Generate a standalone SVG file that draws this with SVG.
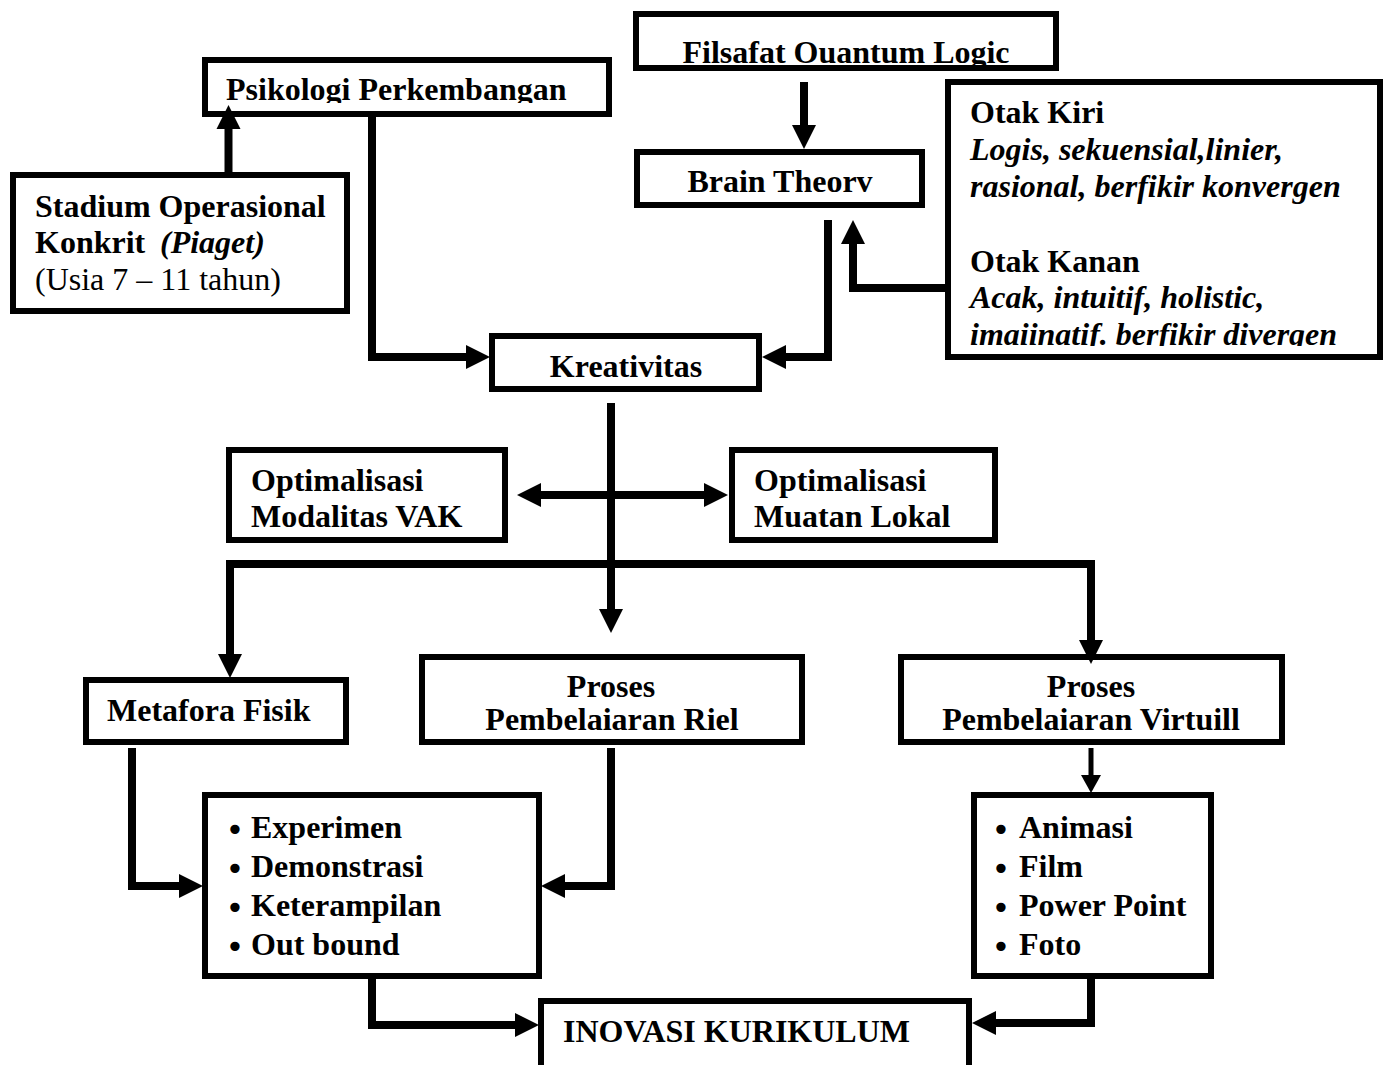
<svg xmlns="http://www.w3.org/2000/svg" width="1385" height="1065" viewBox="0 0 1385 1065">
  <style>
    .box { fill: #fff; stroke: #000; stroke-width: 6; }
    .t { font-family: "Liberation Serif", "Times New Roman", serif; font-size: 32px; font-weight: bold; fill: #000; }
    .reg { font-weight: normal; }
    .it { font-style: italic; }
    .mid { text-anchor: middle; }
    .dot { font-family: "DejaVu Sans", sans-serif; font-weight: normal; }
    .link { fill: none; stroke: #000; stroke-width: 8; stroke-linejoin: miter; stroke-linecap: butt; }
    .thin { stroke-width: 5; }
  </style>
  <defs>
    <marker id="head" markerUnits="userSpaceOnUse" markerWidth="24" markerHeight="24" refX="0" refY="12" orient="auto-start-reverse" overflow="visible">
      <path d="M0,0 L24,12 L0,24 Z" fill="#000"/>
    </marker>
    <marker id="headSmall" markerUnits="userSpaceOnUse" markerWidth="18" markerHeight="20" refX="0" refY="10" orient="auto" overflow="visible">
      <path d="M0,0 L18,10 L0,20 Z" fill="#000"/>
    </marker>
    <!-- text areas of the boxes whose last line is cut off by the inner margin -->
    <clipPath id="clipFilsafat"><rect x="636" y="14" width="420" height="51"/></clipPath>
    <clipPath id="clipPsikologi"><rect x="205" y="60" width="404" height="43"/></clipPath>
    <clipPath id="clipBrain"><rect x="637" y="152" width="285" height="42"/></clipPath>
    <clipPath id="clipOtak"><rect x="948" y="82" width="432" height="264"/></clipPath>
    <clipPath id="clipRiel"><rect x="422" y="657" width="380" height="75"/></clipPath>
    <clipPath id="clipVirtuil"><rect x="901" y="657" width="381" height="75"/></clipPath>
  </defs>

  <!-- nodes -->
  <g id="filsafat">
    <rect class="box" x="636" y="14" width="420" height="54"/>
    <text class="t mid" x="846" y="63" clip-path="url(#clipFilsafat)">Filsafat Ouantum Logic</text>
  </g>
  <g id="psikologi">
    <rect class="box" x="205" y="60" width="404" height="54"/>
    <text class="t" x="226" y="100" clip-path="url(#clipPsikologi)">Psikologi Perkembangan</text>
  </g>
  <g id="stadium">
    <rect class="box" x="13" y="175" width="334" height="136"/>
    <text class="t" x="35" y="217">Stadium Operasional</text>
    <text class="t" y="253"><tspan x="35">Konkrit</tspan><tspan class="it" x="160">(Piaget)</tspan></text>
    <text class="t reg" x="35" y="290">(Usia 7 – 11 tahun)</text>
  </g>
  <g id="brain-theory">
    <rect class="box" x="637" y="152" width="285" height="53"/>
    <text class="t mid" x="780" y="192" clip-path="url(#clipBrain)">Brain Theorv</text>
  </g>
  <g id="otak">
    <rect class="box" x="948" y="82" width="432" height="275"/>
    <g clip-path="url(#clipOtak)">
      <text class="t" x="970" y="123">Otak Kiri</text>
      <text class="t it" x="970" y="160">Logis, sekuensial,linier,</text>
      <text class="t it" x="970" y="197">rasional, berfikir konvergen</text>
      <text class="t" x="970" y="272">Otak Kanan</text>
      <text class="t it" x="970" y="308">Acak, intuitif, holistic,</text>
      <text class="t it" x="970" y="345">imaiinatif. berfikir divergen</text>
    </g>
  </g>
  <g id="kreativitas">
    <rect class="box" x="492" y="336" width="267" height="53"/>
    <text class="t mid" x="626" y="377">Kreativitas</text>
  </g>
  <g id="modalitas-vak">
    <rect class="box" x="229" y="450" width="276" height="90"/>
    <text class="t" x="251" y="491">Optimalisasi</text>
    <text class="t" x="251" y="527">Modalitas VAK</text>
  </g>
  <g id="muatan-lokal">
    <rect class="box" x="732" y="450" width="263" height="90"/>
    <text class="t" x="754" y="491">Optimalisasi</text>
    <text class="t" x="754" y="527">Muatan Lokal</text>
  </g>
  <g id="metafora">
    <rect class="box" x="86" y="680" width="260" height="62"/>
    <text class="t" x="107" y="721">Metafora Fisik</text>
  </g>
  <g id="proses-riel">
    <rect class="box" x="422" y="657" width="380" height="85"/>
    <text class="t mid" x="611" y="697">Proses</text>
    <text class="t mid" x="612" y="730" clip-path="url(#clipRiel)">Pembelaiaran Riel</text>
  </g>
  <g id="proses-virtuil">
    <rect class="box" x="901" y="657" width="381" height="85"/>
    <text class="t mid" x="1091" y="697">Proses</text>
    <text class="t mid" x="1091" y="730" clip-path="url(#clipVirtuil)">Pembelaiaran Virtuill</text>
  </g>
  <g id="kegiatan-riel">
    <rect class="box" x="205" y="795" width="334" height="181"/>
    <text class="t" y="838"><tspan class="dot" x="225.5" dy="3">•</tspan><tspan x="251" dy="-3">Experimen</tspan></text>
    <text class="t" y="877"><tspan class="dot" x="225.5" dy="3">•</tspan><tspan x="251" dy="-3">Demonstrasi</tspan></text>
    <text class="t" y="916"><tspan class="dot" x="225.5" dy="3">•</tspan><tspan x="251" dy="-3">Keterampilan</tspan></text>
    <text class="t" y="955"><tspan class="dot" x="225.5" dy="3">•</tspan><tspan x="251" dy="-3">Out bound</tspan></text>
  </g>
  <g id="media-virtuil">
    <rect class="box" x="974" y="795" width="237" height="181"/>
    <text class="t" y="838"><tspan class="dot" x="991.5" dy="3">•</tspan><tspan x="1019" dy="-3">Animasi</tspan></text>
    <text class="t" y="877"><tspan class="dot" x="991.5" dy="3">•</tspan><tspan x="1019" dy="-3">Film</tspan></text>
    <text class="t" y="916"><tspan class="dot" x="991.5" dy="3">•</tspan><tspan x="1019" dy="-3">Power Point</tspan></text>
    <text class="t" y="955"><tspan class="dot" x="991.5" dy="3">•</tspan><tspan x="1019" dy="-3">Foto</tspan></text>
  </g>
  <g id="inovasi">
    <rect class="box" x="541" y="1001" width="428" height="100"/>
    <text class="t" x="563" y="1042">INOVASI KURIKULUM</text>
  </g>

  <!-- connectors -->
  <g id="connectors">
    <path class="link" d="M228.5,172 V129" marker-end="url(#head)"/>
    <path class="link" d="M372,117 V357 H466" marker-end="url(#head)"/>
    <path class="link" d="M804,82 V125" marker-end="url(#head)"/>
    <path class="link" d="M945,288 H853 V244" marker-end="url(#head)"/>
    <path class="link" d="M828,220 V357 H786" marker-end="url(#head)"/>
    <path class="link" d="M611,403 V609" marker-end="url(#head)"/>
    <path class="link" d="M541,495 H704" marker-start="url(#head)" marker-end="url(#head)"/>
    <path class="link" d="M611,564 H230 V654" marker-end="url(#head)"/>
    <path class="link" d="M611,564 H1091 V640" marker-end="url(#head)"/>
    <path class="link" d="M132,748 V886 H179" marker-end="url(#head)"/>
    <path class="link" d="M611,748 V886 H565" marker-end="url(#head)"/>
    <path class="link thin" d="M1091,748 V775" marker-end="url(#headSmall)"/>
    <path class="link" d="M372,979 V1025 H515" marker-end="url(#head)"/>
    <path class="link" d="M1091,979 V1023 H996" marker-end="url(#head)"/>
  </g>
</svg>
